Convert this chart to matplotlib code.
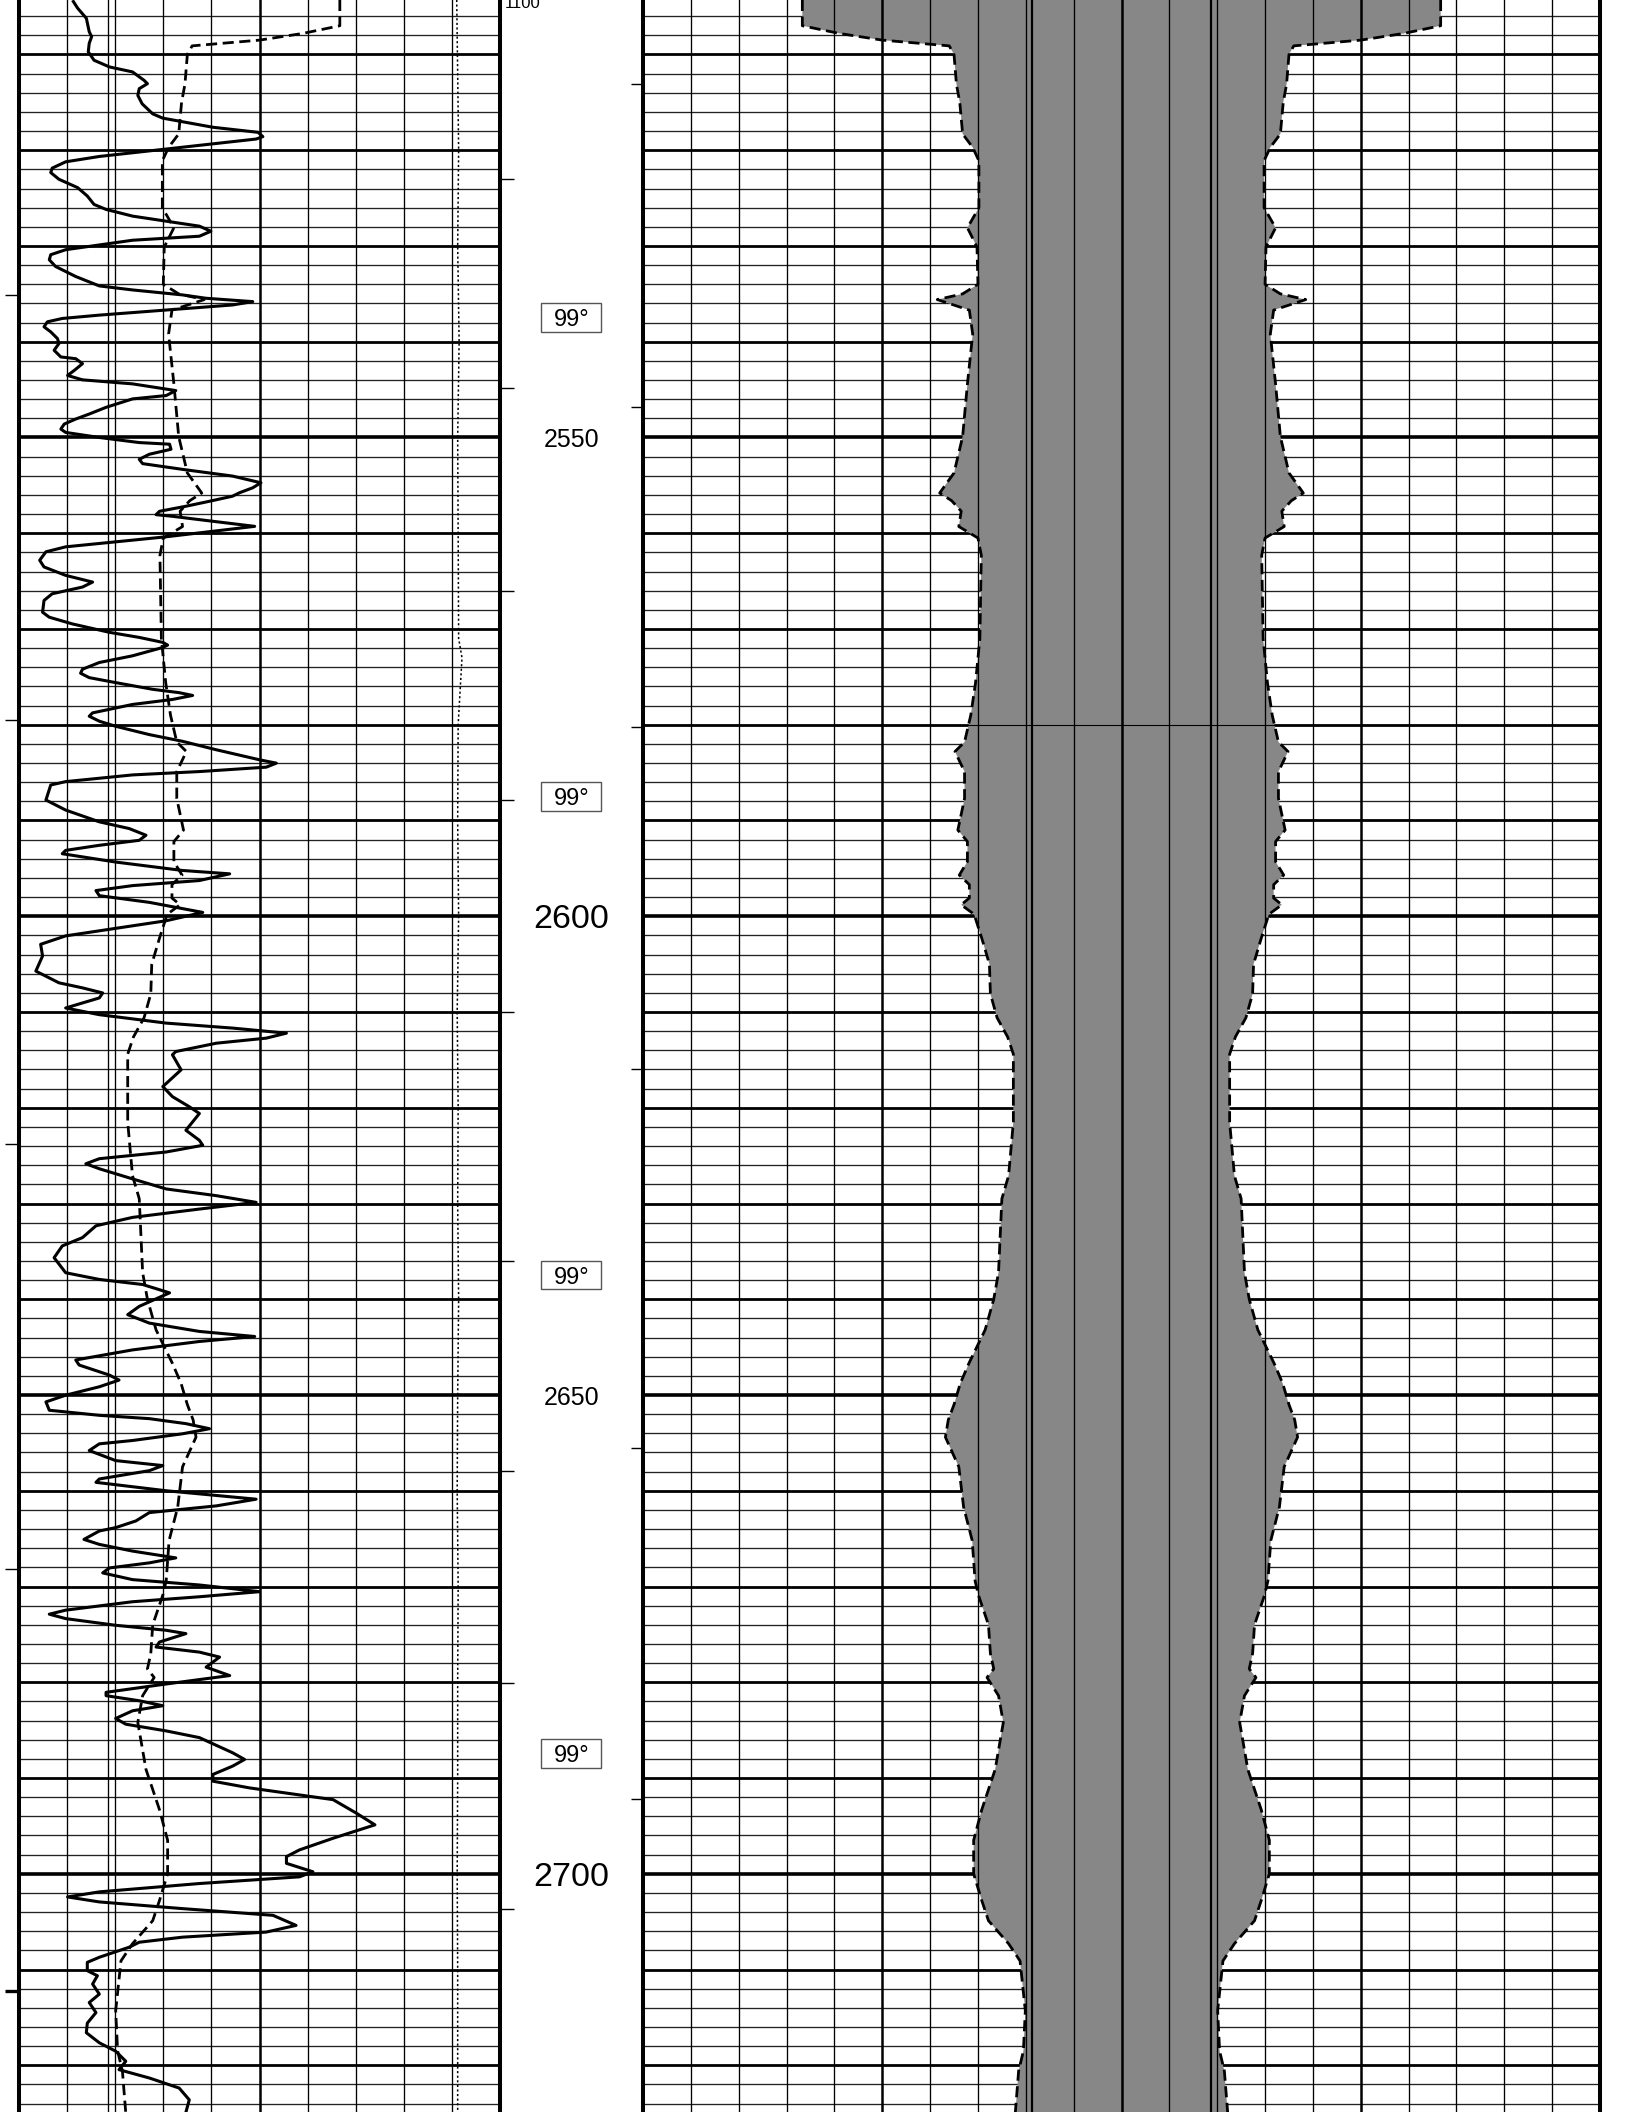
"""Well-log section 2504-2725 m: GR + caliper track, depth track, borehole-profile track."""

import numpy as np
import matplotlib

matplotlib.use("Agg")
import matplotlib.pyplot as plt
from matplotlib.patches import Rectangle

plt.rcParams["font.family"] = ["Liberation Sans", "DejaVu Sans"]

TOP, BASE = 2504.31, 2724.88
BIT_SIZE = 1.86  # track divisions

# gamma ray, track-1 divisions (0-10)
gr_depth = [
    2504.47, 2505.17, 2506.22, 2507.62, 2508.14, 2508.84, 2509.72, 2510.60, 2511.30, 2511.82,
    2512.70, 2513.05, 2513.57, 2514.27, 2515.15, 2516.20, 2516.65, 2517.60, 2518.13, 2518.58,
    2518.83, 2519.88, 2520.65, 2521.21, 2521.87, 2522.33, 2523.03, 2523.91, 2524.78, 2525.66,
    2526.18, 2526.88, 2527.41, 2527.93, 2528.46, 2528.98, 2529.40, 2530.39, 2530.91, 2531.44,
    2532.14, 2533.19, 2534.17, 2534.59, 2535.11, 2535.46, 2535.81, 2536.16, 2536.69, 2537.22,
    2537.57, 2537.92, 2538.44, 2538.97, 2539.67, 2540.19, 2540.89, 2541.59, 2541.77, 2542.29,
    2542.99, 2543.52, 2543.98, 2544.40, 2545.10, 2545.62, 2545.97, 2546.85, 2547.55, 2548.07,
    2548.60, 2549.12, 2549.47, 2550.00, 2550.53, 2550.70, 2551.23, 2551.75, 2552.28, 2552.73,
    2553.33, 2554.03, 2554.73, 2555.25, 2555.78, 2556.13, 2556.66, 2557.18, 2557.71, 2558.06,
    2558.23, 2558.58, 2559.28, 2560.37, 2561.07, 2561.42, 2561.94, 2562.82, 2563.52, 2564.40,
    2565.10, 2565.62, 2566.32, 2567.02, 2568.25, 2568.77, 2569.47, 2570.35, 2570.88, 2571.40,
    2571.68, 2571.93, 2572.80, 2573.50, 2574.20, 2574.62, 2575.08, 2575.60, 2576.30, 2576.65,
    2576.94, 2577.36, 2577.88, 2578.76, 2579.11, 2579.63, 2580.16, 2581.03, 2581.73, 2582.61,
    2583.66, 2584.01, 2584.43, 2584.89, 2585.24, 2585.94, 2586.29, 2587.86, 2588.91, 2590.14,
    2590.84, 2591.54, 2592.07, 2592.59, 2593.12, 2593.47, 2594.34, 2595.22, 2595.57, 2596.27,
    2596.80, 2597.32, 2597.85, 2598.55, 2599.60, 2600.47, 2601.52, 2602.05, 2602.93, 2604.15,
    2605.73, 2606.95, 2607.48, 2608.01, 2608.53, 2609.58, 2610.28, 2611.16, 2611.68, 2612.21,
    2612.73, 2613.26, 2614.13, 2614.47, 2616.04, 2617.79, 2618.84, 2619.89, 2620.60, 2622.35,
    2623.40, 2623.92, 2624.62, 2625.32, 2625.85, 2626.37, 2627.43, 2628.48, 2629.18, 2629.88,
    2630.58, 2631.45, 2632.33, 2633.56, 2634.43, 2635.66, 2637.23, 2637.93, 2638.46, 2639.33,
    2640.74, 2641.61, 2642.49, 2643.36, 2643.89, 2644.41, 2645.29, 2646.34, 2646.87, 2647.92,
    2648.44, 2649.14, 2650.02, 2650.72, 2651.59, 2652.12, 2652.47, 2652.99, 2653.52, 2654.05,
    2654.75, 2655.10, 2655.80, 2656.85, 2657.37, 2657.90, 2658.77, 2659.12, 2660.00, 2660.88,
    2661.58, 2662.28, 2663.15, 2663.85, 2664.20, 2665.08, 2665.60, 2666.30, 2667.01, 2667.53,
    2668.06, 2668.58, 2669.28, 2669.84, 2670.54, 2671.07, 2671.59, 2672.47, 2672.89, 2673.35,
    2674.05, 2674.57, 2674.92, 2675.80, 2676.32, 2676.85, 2677.37, 2678.42, 2679.30, 2680.18,
    2681.05, 2681.40, 2681.93, 2682.45, 2682.98, 2683.78, 2684.38, 2685.08, 2685.78, 2687.36,
    2688.06, 2688.76, 2689.63, 2690.33, 2691.03, 2692.26, 2693.66, 2694.89, 2696.29, 2697.51,
    2698.21, 2698.91, 2699.79, 2700.32, 2701.02, 2701.89, 2702.42, 2702.94, 2703.64, 2704.34,
    2705.39, 2706.09, 2706.62, 2707.15, 2707.67, 2708.72, 2709.25, 2710.12, 2710.65, 2711.52,
    2712.57, 2713.45, 2714.50, 2715.60, 2716.60, 2717.65, 2718.53, 2719.58, 2720.46, 2721.33,
    2722.38, 2723.61, 2724.90,
]
gr_value = [
    1.13, 1.22, 1.40, 1.46, 1.51, 1.46, 1.44, 1.56, 1.88, 2.36,
    2.60, 2.67, 2.50, 2.47, 2.56, 2.78, 2.99, 4.03, 4.97, 5.07,
    4.93, 3.06, 1.67, 0.97, 0.69, 0.66, 0.83, 1.22, 1.42, 1.56,
    1.81, 2.36, 3.06, 3.75, 3.99, 3.75, 2.36, 0.97, 0.66, 0.63,
    0.76, 1.18, 1.67, 2.36, 3.40, 3.89, 4.86, 4.44, 3.06, 1.67,
    0.90, 0.59, 0.52, 0.66, 0.80, 0.83, 0.73, 0.87, 1.18, 1.32,
    1.15, 1.01, 1.32, 2.36, 3.26, 3.06, 2.36, 1.81, 1.46, 1.18,
    0.94, 0.87, 0.97, 1.67, 2.50, 3.13, 3.16, 2.71, 2.50, 2.57,
    3.40, 4.44, 5.03, 4.86, 4.58, 4.44, 3.96, 3.47, 2.92, 2.85,
    3.19, 3.75, 4.90, 3.06, 1.67, 0.97, 0.56, 0.43, 0.52, 0.97,
    1.53, 1.32, 0.69, 0.52, 0.49, 0.63, 1.11, 1.88, 2.50, 2.99,
    3.09, 2.99, 2.36, 1.67, 1.32, 1.28, 1.46, 2.01, 2.78, 3.33,
    3.61, 3.19, 2.36, 1.53, 1.46, 1.67, 2.01, 2.71, 3.40, 4.10,
    5.00, 5.35, 5.14, 3.75, 2.36, 0.97, 0.66, 0.56, 0.97, 1.67,
    2.29, 2.64, 2.50, 1.67, 0.97, 0.90, 2.01, 3.40, 4.38, 3.75,
    2.36, 1.60, 1.67, 2.71, 3.82, 3.06, 1.67, 0.97, 0.45, 0.49,
    0.35, 0.83, 1.32, 1.74, 1.67, 0.97, 1.67, 3.06, 4.44, 5.56,
    5.14, 4.10, 3.26, 3.19, 3.37, 2.99, 3.19, 3.54, 3.75, 3.47,
    3.75, 3.82, 3.06, 1.67, 1.39, 1.67, 2.36, 3.06, 4.10, 4.93,
    3.75, 2.36, 1.60, 1.32, 0.90, 0.73, 0.97, 1.67, 2.57, 3.13,
    2.50, 2.26, 2.71, 3.75, 4.90, 3.75, 2.36, 1.18, 1.25, 1.88,
    2.08, 1.67, 0.97, 0.56, 0.63, 1.67, 2.71, 3.47, 3.96, 3.40,
    2.36, 1.67, 1.46, 2.01, 2.99, 2.71, 1.67, 1.60, 3.06, 4.93,
    4.10, 2.71, 2.43, 2.01, 1.67, 1.35, 1.67, 2.36, 3.26, 2.71,
    1.88, 1.74, 2.36, 3.75, 5.00, 3.75, 2.36, 0.97, 0.63, 0.97,
    2.01, 3.06, 3.47, 2.92, 2.85, 3.75, 4.17, 3.89, 4.38, 3.06,
    1.81, 1.81, 2.50, 2.99, 2.36, 2.01, 2.22, 3.06, 3.75, 4.44,
    4.69, 4.44, 4.03, 4.03, 4.79, 6.53, 7.01, 7.40, 6.53, 5.83,
    5.56, 5.56, 6.11, 5.83, 3.75, 1.67, 1.01, 1.67, 3.40, 5.28,
    5.76, 5.14, 3.40, 2.50, 2.29, 1.67, 1.42, 1.42, 1.63, 1.53,
    1.67, 1.46, 1.60, 1.42, 1.40, 1.67, 2.01, 2.22, 2.08, 2.71,
    3.33, 3.54, 3.47,
]

# caliper, same division scale; mirrored in the borehole-profile track
cal_depth = [
    2504.3, 2507.0, 2507.8, 2508.5, 2509.1, 2510.0, 2513.1, 2515.0, 2518.3, 2519.7,
    2521.1, 2526.0, 2528.1, 2530.1, 2534.0, 2535.0, 2535.6, 2536.7, 2539.2, 2544.4,
    2549.9, 2553.7, 2555.8, 2556.6, 2557.7, 2559.3, 2560.5, 2562.3, 2571.0, 2575.6,
    2579.0, 2581.8, 2582.8, 2584.9, 2587.7, 2591.0, 2592.2, 2594.3, 2595.7, 2596.7,
    2598.1, 2598.8, 2599.8, 2602.3, 2605.0, 2608.1, 2610.6, 2612.6, 2614.4, 2621.5,
    2627.1, 2629.5, 2637.2, 2640.0, 2643.2, 2646.7, 2648.8, 2651.0, 2652.6, 2654.4,
    2657.5, 2661.7, 2665.2, 2669.4, 2670.9, 2674.0, 2677.0, 2678.6, 2679.5, 2681.4,
    2684.2, 2689.1, 2693.3, 2696.5, 2700.0, 2702.8, 2704.9, 2707.3, 2709.1, 2714.3,
    2718.5, 2720.6, 2725.0,
]
cal_value = [
    6.67, 6.67, 5.90, 5.00, 3.60, 3.50, 3.45, 3.38, 3.32, 3.11,
    2.98, 2.98, 3.22, 3.02, 3.00, 3.32, 3.85, 3.18, 3.11, 3.22,
    3.32, 3.50, 3.80, 3.55, 3.35, 3.40, 3.00, 2.93, 2.96, 3.05,
    3.15, 3.28, 3.48, 3.28, 3.28, 3.42, 3.22, 3.22, 3.39, 3.18,
    3.18, 3.35, 3.08, 2.92, 2.76, 2.74, 2.60, 2.38, 2.26, 2.26,
    2.36, 2.50, 2.57, 2.67, 2.85, 3.19, 3.37, 3.50, 3.62, 3.68,
    3.40, 3.30, 3.12, 3.06, 2.99, 2.78, 2.74, 2.67, 2.81, 2.57,
    2.47, 2.64, 2.92, 3.09, 3.09, 2.92, 2.78, 2.36, 2.12, 2.01,
    2.05, 2.15, 2.22,
]

# fine dotted curve near the right of track 1
dot_depth = [2504.3, 2512, 2520, 2530, 2540, 2550, 2560, 2571, 2573, 2580, 2590, 2600,
             2610, 2620, 2630, 2640, 2650, 2660, 2670, 2680, 2690, 2700, 2710, 2725]
dot_value = [9.10, 9.12, 9.14, 9.12, 9.15, 9.12, 9.13, 9.14, 9.21, 9.13, 9.12, 9.14,
             9.11, 9.13, 9.12, 9.14, 9.12, 9.11, 9.13, 9.12, 9.12, 9.11, 9.12, 9.12]

depth_labels = [2550, 2600, 2650, 2700]
temp_depths = [2537.47, 2587.47, 2637.47, 2687.47]
temp_text = "99\u00b0"
left_marks = [2523.0, 2544.8, 2566.0, 2587.9, 2610.0, 2636.0, 2657.9, 2680.1, 2703.7]
right_marks = [2513.05, 2546.8, 2580.2, 2616.0, 2655.5, 2692.2]
edge_marks = [2535.08, 2579.5, 2623.8, 2668.2, 2712.2]

W, H = 1627, 2112
fig = plt.figure(figsize=(W / 100, H / 100), dpi=100)
ax1 = fig.add_axes([19 / W, 0, 481 / W, 1])
axd = fig.add_axes([500 / W, 0, 143 / W, 1])
ax2 = fig.add_axes([643 / W, 0, 957 / W, 1])

minor = [d for d in np.arange(2506, 2725, 2) if d % 10 != 0]
major = [d for d in np.arange(2510, 2721, 10) if d % 50 != 0]
fifty = np.arange(2550, 2701, 50)

for ax, (x0, x1) in ((ax1, (0, 10)), (ax2, (-10, 10))):
    ax.set_xlim(x0, x1)
    ax.set_ylim(BASE, TOP)
    ax.set_xticks([])
    ax.set_yticks([])
    ax.spines[["top", "bottom"]].set_visible(False)
    ax.spines[["left", "right"]].set_linewidth(2.9)
    ax.hlines(minor, x0, x1, color="#222222", lw=0.95, zorder=1)
    ax.hlines(major, x0, x1, color="black", lw=2.0, zorder=1)
    ax.hlines(fifty, x0, x1, color="black", lw=2.6, zorder=1)

axd.set_xlim(0, 1)
axd.set_ylim(BASE, TOP)
axd.axis("off")

# track 1 grid and curves
for k in range(1, 10):
    ax1.axvline(k, color="black", lw=1.8 if k == 5 else 0.95, zorder=1)
ax1.axvline(BIT_SIZE, color="black", lw=0.95, zorder=1)
ax1.plot(dot_value, dot_depth, color="black", lw=1.1, dashes=(1.4, 1.6), zorder=3)
ax1.plot(cal_value, cal_depth, color="black", lw=2.0, dashes=(4.0, 2.0), zorder=3)
ax1.plot(gr_value, gr_depth, color="black", lw=2.2, zorder=4)
ax1.hlines(edge_marks[:-1], -0.29, 0, color="black", lw=1.0, clip_on=False)
ax1.hlines(edge_marks[-1:], -0.29, 0, color="black", lw=2.4, clip_on=False)

# track 2: borehole profile
cal = np.array(cal_value)
ax2.fill_betweenx(cal_depth, -cal, cal, color="#878787", lw=0, zorder=2)
for k in range(-9, 10):
    ax2.axvline(k, color="black", lw=1.8 if k % 5 == 0 else 0.95, zorder=4)
for s in (-1, 1):
    ax2.axvline(s * BIT_SIZE, color="black", lw=1.6, zorder=4)
    ax2.plot(s * cal, cal_depth, color="black", lw=2.0, dashes=(4.0, 2.0), zorder=5)
ax2.axhline(2580, color="black", lw=0.8, zorder=4)

# depth track
for d in depth_labels:
    axd.text(0.5, d, str(d), ha="center", va="center_baseline",
             fontsize=24.5 if d % 100 == 0 else 18)
for d in temp_depths:
    axd.add_patch(Rectangle((0.287, d - 1.51), 0.419, 3.02, fill=False,
                            ec="#555555", lw=1.0))
    axd.text(0.5, d, temp_text, ha="center", va="center_baseline", fontsize=17)
axd.hlines(left_marks, 0, 0.095, color="black", lw=1.0)
axd.hlines(right_marks, 0.915, 1, color="black", lw=1.0)
axd.text(0.035, 2505.15, "1100", ha="left", va="baseline", fontsize=12)

fig.savefig("out.png", dpi=100)
